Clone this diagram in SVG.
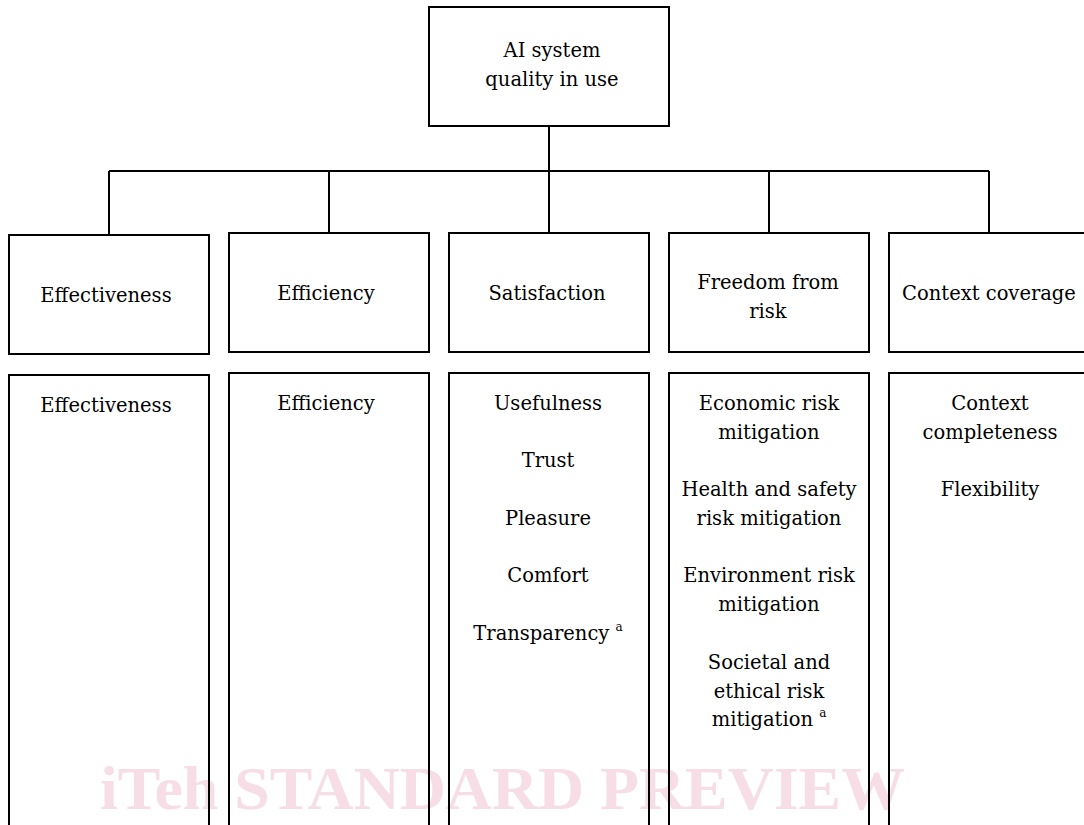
<svg xmlns="http://www.w3.org/2000/svg" width="1084" height="825" viewBox="0 0 1084 825">
<style>
.box{fill:none;stroke:#000;stroke-width:2}
.ln{fill:none;stroke:#000;stroke-width:2}
.t{font-family:"DejaVu Serif","Liberation Serif",serif;font-size:19.5px;fill:#000;text-anchor:middle}
.sup{font-size:12px}
.wm{font-family:"Liberation Serif",serif;font-weight:bold;font-size:62px;fill:#f7dde5}
</style>
<rect width="1084" height="825" fill="#fff"/>
<text class="wm" x="100" y="809" textLength="805" lengthAdjust="spacingAndGlyphs">iTeh STANDARD PREVIEW</text>
<g id="connectors">
<path class="ln" d="M549 126V233M109 171H989M109 171V235M329 171V233M769 171V233M989 171V233"/>
</g>
<g id="root">
<rect class="box" x="429" y="7" width="240" height="119"/>
<text class="t" x="552" y="57">AI system</text>
<text class="t" x="552" y="86">quality in use</text>
</g>
<g id="effectiveness">
<rect class="box" x="9" y="235" width="200" height="119"/>
<text class="t" x="106" y="302">Effectiveness</text>
</g>
<g id="efficiency">
<rect class="box" x="229" y="233" width="200" height="119"/>
<text class="t" x="326" y="300">Efficiency</text>
</g>
<g id="satisfaction">
<rect class="box" x="449" y="233" width="200" height="119"/>
<text class="t" x="547" y="300">Satisfaction</text>
</g>
<g id="freedom">
<rect class="box" x="669" y="233" width="200" height="119"/>
<text class="t" x="768" y="289">Freedom from</text>
<text class="t" x="768" y="318">risk</text>
</g>
<g id="context">
<rect class="box" x="889" y="233" width="200" height="119"/>
<text class="t" x="989" y="300">Context coverage</text>
</g>
<g id="effectiveness-sub">
<rect class="box" x="9" y="375" width="200" height="460"/>
<text class="t" x="106" y="412">Effectiveness</text>
</g>
<g id="efficiency-sub">
<rect class="box" x="229" y="373" width="200" height="460"/>
<text class="t" x="326" y="410">Efficiency</text>
</g>
<g id="satisfaction-sub">
<rect class="box" x="449" y="373" width="200" height="460"/>
<text class="t" x="548" y="410">Usefulness</text>
<text class="t" x="548" y="467">Trust</text>
<text class="t" x="548" y="525">Pleasure</text>
<text class="t" x="548" y="582">Comfort</text>
<text class="t" x="548" y="640">Transparency <tspan class="sup" dy="-9">a</tspan></text>
</g>
<g id="freedom-sub">
<rect class="box" x="669" y="373" width="200" height="460"/>
<text class="t" x="769" y="410">Economic risk</text>
<text class="t" x="769" y="439">mitigation</text>
<text class="t" x="769" y="496">Health and safety</text>
<text class="t" x="769" y="525">risk mitigation</text>
<text class="t" x="769" y="582">Environment risk</text>
<text class="t" x="769" y="611">mitigation</text>
<text class="t" x="769" y="669">Societal and</text>
<text class="t" x="769" y="698">ethical risk</text>
<text class="t" x="769" y="726">mitigation <tspan class="sup" dy="-9">a</tspan></text>
</g>
<g id="context-sub">
<rect class="box" x="889" y="373" width="200" height="460"/>
<text class="t" x="990" y="410">Context</text>
<text class="t" x="990" y="439">completeness</text>
<text class="t" x="990" y="496">Flexibility</text>
</g>
</svg>
